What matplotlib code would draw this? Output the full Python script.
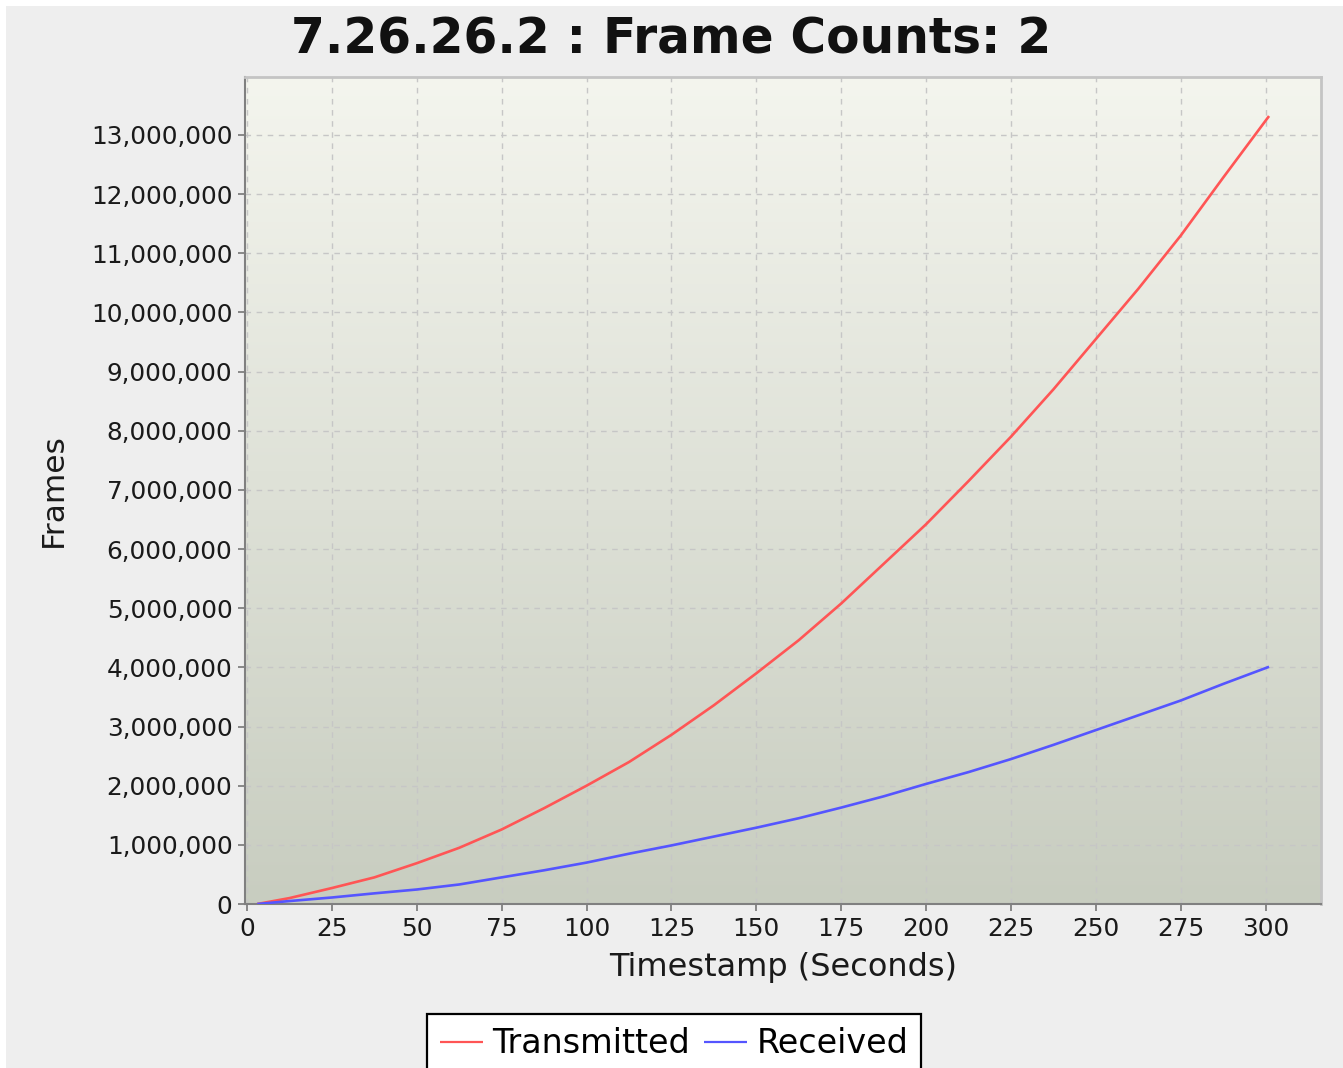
import numpy as np
import matplotlib
matplotlib.use("Agg")
import matplotlib.pyplot as plt
from matplotlib.ticker import FuncFormatter, MultipleLocator
from matplotlib.patches import Rectangle

# ---- data ----
timestamps = [3, 12.5, 25, 37.5, 50, 62.5, 75, 87.5, 100, 112.5, 125, 137.5, 150,
              162.5, 175, 187.5, 200, 212.5, 225, 237.5, 250, 262.5, 275, 287.5, 301]
transmitted = [0, 100000, 270000, 450000, 690000, 950000, 1260000, 1620000, 2000000,
               2400000, 2860000, 3360000, 3900000, 4460000, 5080000, 5750000, 6420000,
               7150000, 7900000, 8700000, 9550000, 10400000, 11300000, 12280000, 13320000]
received = [0, 50000, 110000, 180000, 245000, 330000, 450000, 570000, 700000,
            850000, 990000, 1140000, 1290000, 1450000, 1630000, 1820000, 2030000,
            2230000, 2450000, 2690000, 2940000, 3190000, 3440000, 3720000, 4010000]
series_names = ["Transmitted", "Received"]
series_colors = ["#FF5555", "#5555FF"]
x_ticks = list(range(0, 301, 25))
title_text = "7.26.26.2 : Frame Counts: 2"
x_label = "Timestamp (Seconds)"
y_label = "Frames"

W, H = 1343, 1068
fig = plt.figure(figsize=(W / 100, H / 100), dpi=100)
fig.patch.set_facecolor("white")
fig.patches.append(Rectangle((6 / W, 0), 1 - 6 / W, 1 - 6 / H, transform=fig.transFigure,
                             facecolor="#EEEEEE", edgecolor="none", zorder=-10))

L, R, T, B = 245, 1321, 77, 904
ax = fig.add_axes([L / W, (H - B) / H, (R - L) / W, (B - T) / H])
ax.set_facecolor("none")

# gradient background
grad = np.linspace(0, 1, 256).reshape(-1, 1)
top = np.array([244, 245, 238]) / 255
bot = np.array([200, 205, 192]) / 255
img = top[None, None, :] * (1 - grad[..., None]) + bot[None, None, :] * grad[..., None]
ax.imshow(img, extent=[0, 1, 0, 1], transform=ax.transAxes, aspect="auto", zorder=-5)

ax.plot(timestamps, transmitted, color=series_colors[0], lw=1.9, label=series_names[0],
        zorder=3, solid_capstyle="butt", solid_joinstyle="round")
ax.plot(timestamps, received, color=series_colors[1], lw=1.9, label=series_names[1],
        zorder=3, solid_capstyle="butt", solid_joinstyle="round")

ax.set_xlim(-0.6, 316.3)
ax.set_ylim(0, 13980000)
ax.set_xticks(x_ticks)
ax.yaxis.set_major_locator(MultipleLocator(1000000))
ax.yaxis.set_major_formatter(FuncFormatter(lambda v, p: f"{int(round(v)):,}"))

ax.grid(True, color="#C6C6C6", linestyle=(0, (4, 4)), linewidth=1.0, zorder=0)
ax.set_axisbelow(True)

for s in ["left", "bottom"]:
    ax.spines[s].set_color("#808080")
    ax.spines[s].set_linewidth(1.5)
for s in ["top", "right"]:
    ax.spines[s].set_color("#C4C4C4")
    ax.spines[s].set_linewidth(2.0)

ax.tick_params(axis="both", direction="out", length=5, width=1.3, color="#808080",
               labelsize=17.8, labelcolor="#1A1A1A", pad=4)

ax.set_xlabel(x_label, fontsize=23, color="#1A1A1A", labelpad=8)
ax.set_ylabel(y_label, fontsize=22.5, color="#1A1A1A", labelpad=17)

fig.text(0.5, 1 - 40 / H, title_text, ha="center", va="center", fontsize=35,
         fontweight="bold", color="#111111")

leg = fig.legend(loc="upper center", bbox_to_anchor=(674 / W, 1 - 1014 / H), ncol=2,
                 fontsize=24, frameon=True, fancybox=False, handlelength=1.3,
                 handletextpad=0.28, columnspacing=0.4, borderpad=0.4,
                 borderaxespad=0)
leg.get_frame().set_edgecolor("black")
leg.get_frame().set_linewidth(1.6)
leg.get_frame().set_facecolor("white")
leg.get_frame().set_alpha(1)
for line in leg.get_lines():
    line.set_linewidth(1.6)

fig.savefig("out.png", dpi=100, facecolor=fig.get_facecolor())
